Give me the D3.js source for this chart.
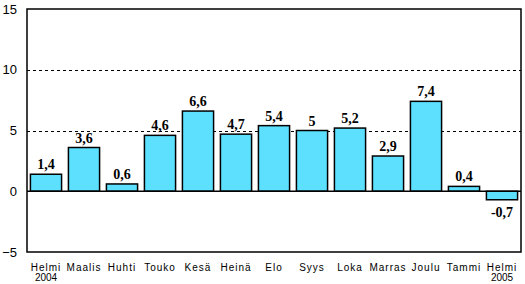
<!DOCTYPE html>
<html>
<head>
<meta charset="utf-8">
<script src="https://cdn.jsdelivr.net/npm/d3@7"></script>
<style>
  body { margin: 0; background: #fff; }
  svg { display: block; }
</style>
</head>
<body>
<div id="chart"></div>
<script>
"use strict";

const months = ["Helmi", "Maalis", "Huhti", "Touko", "Kesä", "Heinä", "Elo", "Syys", "Loka", "Marras", "Joulu", "Tammi", "Helmi"];
const years = ["2004", "", "", "", "", "", "", "", "", "", "", "", "2005"];
const values = [1.4, 3.6, 0.6, 4.6, 6.6, 4.7, 5.4, 5.0, 5.2, 2.9, 7.4, 0.4, -0.7];
const yTicks = [-5, 0, 5, 10, 15];

const msm = {
    width: 525,
    height: 284,
    left: 27,
    right: 521,
    top: 9,
    bottom: 252
}

const svg = d3.select("#chart")
    .append("svg")
    .attr("width", msm.width)
    .attr("height", msm.height);

const idx = d3.range(values.length);

const xScale = d3.scaleBand()
    .domain(idx)
    .range([msm.left, msm.right])
    .paddingInner(0.18)
    .paddingOuter(0.09);

const yScale = d3.scaleLinear()
    .domain([-5, 15])
    .range([msm.bottom, msm.top]);

// dashed grid lines
svg.selectAll(".grid")
    .data([5, 10])
    .enter()
    .append("line")
    .attr("x1", msm.left)
    .attr("x2", msm.right)
    .attr("y1", (d) => Math.round(yScale(d)) + 0.5)
    .attr("y2", (d) => Math.round(yScale(d)) + 0.5)
    .attr("stroke", "#000")
    .attr("stroke-width", 1)
    .attr("stroke-dasharray", "3,3");

// bars
svg.selectAll(".bar")
    .data(values)
    .enter()
    .append("rect")
    .attr("x", (d, i) => xScale(i))
    .attr("width", xScale.bandwidth())
    .attr("y", (d) => yScale(Math.max(d, 0)))
    .attr("height", (d) => Math.abs(yScale(d) - yScale(0)))
    .attr("fill", "#5ce0fe")
    .attr("stroke", "#000")
    .attr("stroke-width", 1.5);

// zero line
svg.append("line")
    .attr("x1", msm.left)
    .attr("x2", msm.right)
    .attr("y1", yScale(0))
    .attr("y2", yScale(0))
    .attr("stroke", "#000")
    .attr("stroke-width", 1.5);

// frame
svg.append("rect")
    .attr("x", msm.left)
    .attr("y", msm.top)
    .attr("width", msm.right - msm.left)
    .attr("height", msm.bottom - msm.top)
    .attr("fill", "none")
    .attr("stroke", "#000")
    .attr("stroke-width", 1.5);

// y axis labels
const yAxis = d3.axisLeft(yScale)
    .tickValues(yTicks)
    .tickSize(0)
    .tickPadding(10);
const yG = svg.append("g")
    .attr("transform", "translate(" + msm.left + ",0)")
    .call(yAxis);
yG.select(".domain").remove();
yG.selectAll("text")
    .style("font-family", "Arial, 'Liberation Sans', sans-serif")
    .style("font-size", "13px")
    .attr("fill", "#000");

// value labels
svg.selectAll(".val")
    .data(values)
    .enter()
    .append("text")
    .attr("x", (d, i) => xScale(i) + xScale.bandwidth() / 2)
    .attr("y", (d) => d >= 0 ? yScale(d) - 5 : yScale(d) + 17)
    .attr("text-anchor", "middle")
    .style("font-family", "'Liberation Serif', 'Times New Roman', serif")
    .style("font-weight", "bold")
    .style("font-size", "14px")
    .text((d) => String(d).replace(".", ","));

// x labels
const xG = svg.append("g");
xG.selectAll(".mon")
    .data(months)
    .enter()
    .append("text")
    .attr("x", (d, i) => xScale(i) + xScale.bandwidth() / 2)
    .attr("y", 271)
    .attr("text-anchor", "middle")
    .style("font-family", "Arial, 'Liberation Sans', sans-serif")
    .style("font-size", "10px")
    .style("letter-spacing", "1px")
    .text((d) => d);
xG.selectAll(".yr")
    .data(years)
    .enter()
    .append("text")
    .attr("x", (d, i) => xScale(i) + xScale.bandwidth() / 2)
    .attr("y", 281)
    .attr("text-anchor", "middle")
    .style("font-family", "Arial, 'Liberation Sans', sans-serif")
    .style("font-size", "10px")
    .text((d) => d);
</script>
</body>
</html>
